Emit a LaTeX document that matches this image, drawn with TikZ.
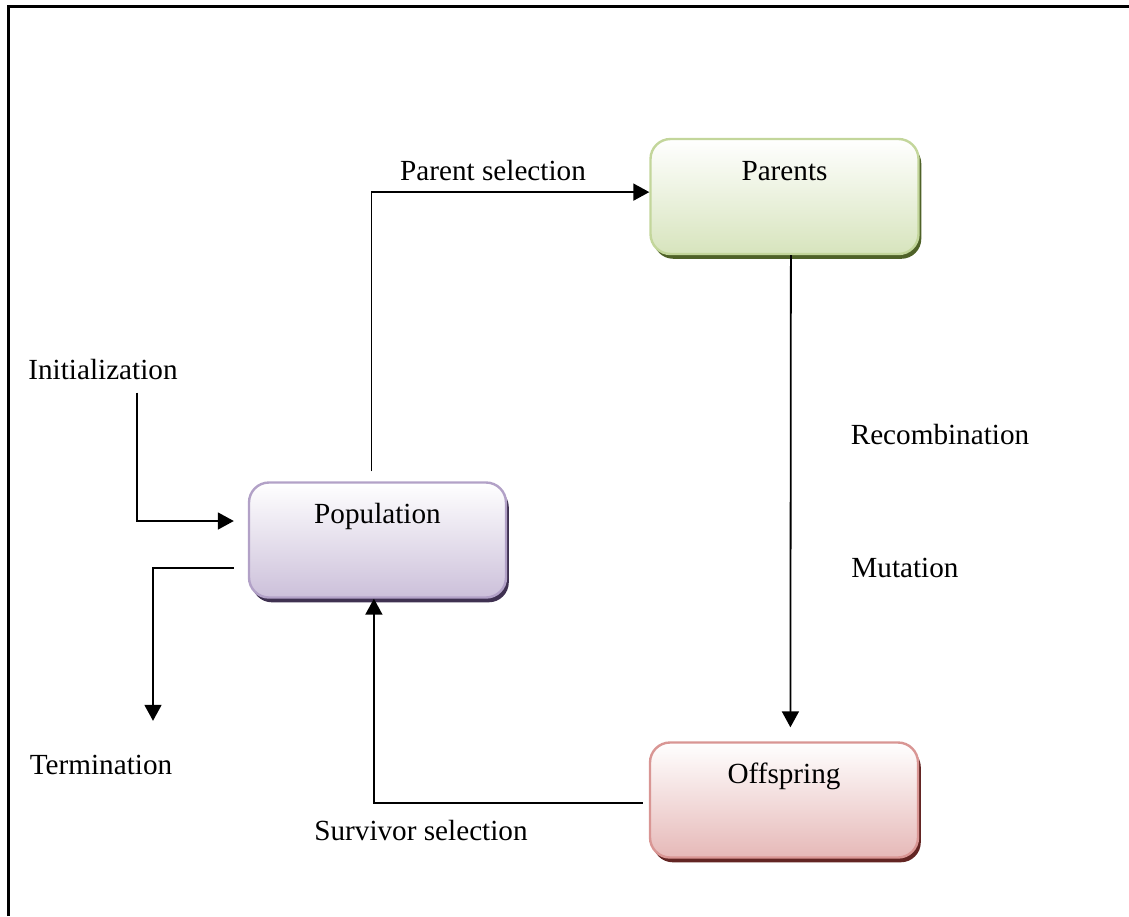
\documentclass[tikz,border=0pt]{standalone}
\usepackage{fontspec}
\setmainfont{Liberation Serif}
\usepackage{tikz}
\usetikzlibrary{
	positioning,
	arrows.meta,
	shadows
}

\definecolor{parentsline}{HTML}{C3D69B}
\definecolor{parentsfill}{HTML}{D7E4BD}
\definecolor{parentsdark}{HTML}{4F6228}
\definecolor{popline}{HTML}{B2A1C7}
\definecolor{popfill}{HTML}{CCC0DA}
\definecolor{popdark}{HTML}{3F3151}
\definecolor{offline}{HTML}{D99694}
\definecolor{offfill}{HTML}{E6B9B8}
\definecolor{offdark}{HTML}{632523}

\tikzset{
	stage/.style={
		draw,rounded corners=10pt,line width=1.2pt,
		minimum width=134pt,minimum height=57.5pt,
		text height=10pt,text depth=26.5pt,
		top color=white
	},
	greenstage/.style={stage,draw=parentsline,bottom color=parentsfill,
		drop shadow={shadow xshift=1.4pt,shadow yshift=-2.4pt,fill=parentsdark,opacity=1}},
	purplestage/.style={stage,minimum width=128.5pt,draw=popline,bottom color=popfill,
		drop shadow={shadow xshift=1.4pt,shadow yshift=-2.4pt,fill=popdark,opacity=1}},
	redstage/.style={stage,draw=offline,bottom color=offfill,
		drop shadow={shadow xshift=1.4pt,shadow yshift=-2.4pt,fill=offdark,opacity=1}},
	txt/.style={inner sep=1pt},
	flow/.style={-{Triangle[length=8pt,width=8.5pt]},line width=0.9pt}
}

\begin{document}
\begin{tikzpicture}[x=0.5pt,y=-0.5pt,font=\fontsize{14.6}{17}\selectfont]
		\useasboundingbox (0,0) rectangle (1129,916);
		\draw[line width=1.5pt] (8,916) -- (8,6) -- (1129,6);

		\draw
			node[greenstage]  (parents) at (784.5,196.5) {Parents}
			node[purplestage] (pop)     at (377.5,540)   {Population}
			node[redstage]    (off)     at (784,800)     {Offspring}

			node[txt] (parsel) at (493,171) {Parent selection}
			node[txt] (recomb) at (940,435) {Recombination}
			node[txt] (mut)    at (905,568) {Mutation}
			node[txt] (sursel) at (421,830) {Survivor selection}
			node[txt] (init)   at (103,370) {Initialization}
			node[txt] (term)   at (101,765) {Termination}
		;

		\draw[flow] ([xshift=-3pt,yshift=5pt]pop.north) |- ([yshift=2.2pt]parents.west);
		\draw[flow] ([xshift=3.2pt]parents.south) -- ([xshift=3.2pt,yshift=7pt]off.north);
		\draw[flow] ([xshift=-3pt,yshift=-1.5pt]off.west) -| ([xshift=-1.8pt]pop.south);
		\draw[flow] ([xshift=17pt,yshift=-5pt]init.south) |- ([xshift=-7pt,yshift=9.5pt]pop.west);
		\draw[flow] ([xshift=-7pt,yshift=-14pt]pop.west) -| ([xshift=26pt,yshift=16pt]term.north);
	\end{tikzpicture}
\end{document}
